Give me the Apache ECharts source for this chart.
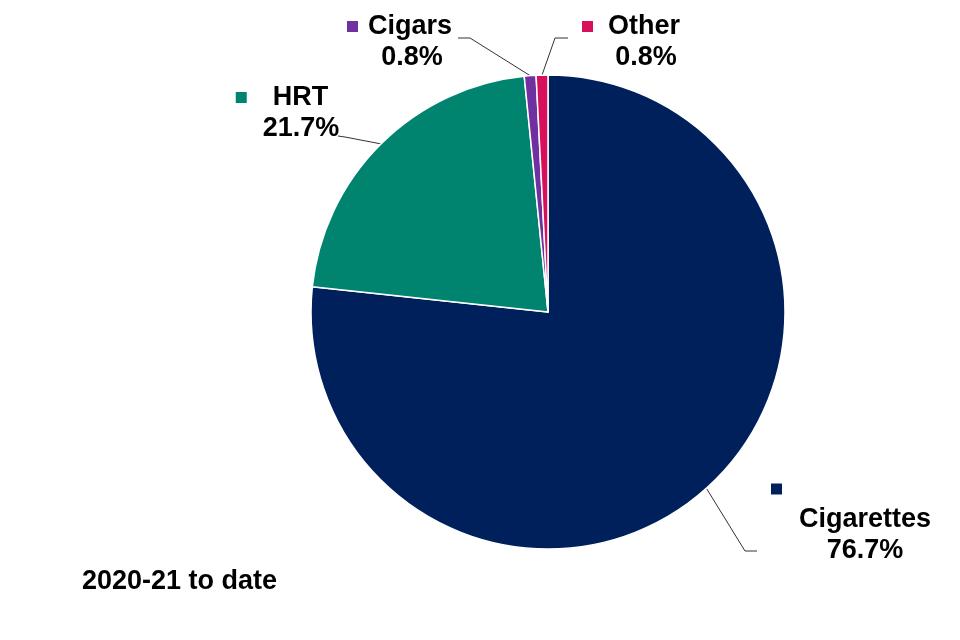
<!DOCTYPE html>
<html><head><meta charset="utf-8">
<script src="https://cdn.jsdelivr.net/npm/echarts@6/dist/echarts.min.js"></script>
<style>html,body{margin:0;padding:0;background:#fff}#c{width:960px;height:640px}</style>
</head><body><div id="c"></div>
<script>
const categories = ['Cigarettes', 'HRT', 'Cigars', 'Other'];
const shares = [76.7, 21.7, 0.8, 0.8];
const colors = ['#00205B', '#008470', '#7030A0', '#D6105A'];
const periodLabel = '2020-21 to date';

// label placement: [centerX, centerY, elbowX, elbowY, endX, endY]
const labelPlace = [
  [865, 520, 745, 551, 757, 551],
  [301, 113, 345, 137, 338, 136],
  [412, 42, 470, 38, 458, 38],
  [646, 42, 555, 38, 568, 38]
];

const FONT = '"Liberation Sans", Arial, sans-serif';
const FS = 27;
const LH = 31;
const rich = {
  nm: { fontFamily: FONT, fontSize: FS, fontWeight: 'bold', color: '#000', lineHeight: LH },
  val: { fontFamily: FONT, fontSize: FS, fontWeight: 'bold', color: '#000', lineHeight: LH },
  sp0: { width: 177, height: 11, lineHeight: LH },
  g1: { width: 26, height: 11, lineHeight: LH }, t1: { width: 38, height: 11, lineHeight: LH },
  g2: { width: 10, height: 11, lineHeight: LH }, t2: { width: 25, height: 11, lineHeight: LH },
  g3: { width: 15, height: 11, lineHeight: LH }, t3: { width: 30, height: 11, lineHeight: LH }
};
colors.forEach((c, i) => { rich['sq' + i] = { width: 11, height: 11, backgroundColor: c, lineHeight: LH }; });

const chart = echarts.init(document.getElementById('c'), null, { renderer: 'canvas' });
chart.setOption({
  animation: false,
  backgroundColor: '#fff',
  title: {
    text: periodLabel, left: 82, top: 568, padding: 0,
    textStyle: { fontFamily: FONT, fontSize: FS, fontWeight: 'bold', color: '#000' }
  },
  series: [{
    type: 'pie',
    center: [548, 312],
    radius: 237,
    startAngle: 90,
    clockwise: true,
    avoidLabelOverlap: false,
    data: categories.map((n, i) => ({ name: n, value: shares[i], itemStyle: { color: colors[i] } })),
    itemStyle: { borderColor: '#fff', borderWidth: 1.5 },
    label: {
      show: true, position: 'outside', align: 'center',
      formatter: function (p) {
        const i = p.dataIndex;
        const v = shares[i].toFixed(1) + '%';
        if (i === 0) return '{sq0|}{sp0|}\n{nm|' + p.name + '}\n{val|' + v + '}';
        return '{sq' + i + '|}{g' + i + '|}{nm|' + p.name + '}{t' + i + '|}\n{val|' + v + '}';
      },
      rich: rich
    },
    labelLine: { show: true, length: 20, length2: 10, lineStyle: { color: '#333', width: 1 } },
    labelLayout: function (params) {
      const pl = labelPlace[params.dataIndex];
      const p0 = params.labelLinePoints ? params.labelLinePoints[0] : [pl[2], pl[3]];
      return {
        x: pl[0], y: pl[1], align: 'center', verticalAlign: 'middle',
        labelLinePoints: [[p0[0], p0[1]], [pl[2], pl[3]], [pl[4], pl[5]]]
      };
    },
    emphasis: { disabled: true }
  }]
});
</script></body></html>
